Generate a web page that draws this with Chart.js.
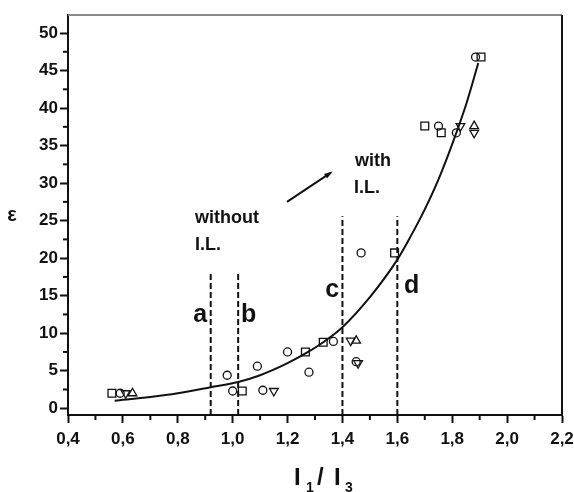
<!DOCTYPE html>
<html>
<head>
<meta charset="utf-8">
<title>epsilon vs I1/I3</title>
<script src="https://cdn.jsdelivr.net/npm/chart.js@4/dist/chart.umd.min.js"></script>
<style>
  html, body { margin: 0; padding: 0; background: #ffffff; }
  #wrap { width: 574px; height: 492px; position: relative; }
</style>
</head>
<body>
<div id="wrap"><canvas id="chart"></canvas></div>
<script>
// -----------------------------------------------------------------------------
// Data (x = I1/I3, y = epsilon)
// -----------------------------------------------------------------------------
const squaresX = [0.56, 1.035, 1.265, 1.33, 1.59, 1.70, 1.76, 1.905];
const squaresY = [2.0, 2.3, 7.5, 8.8, 20.7, 37.6, 36.7, 46.8];

const circlesX = [0.59, 0.98, 1.00, 1.09, 1.11, 1.20, 1.278, 1.367, 1.45, 1.468, 1.75, 1.815, 1.885];
const circlesY = [2.0, 4.4, 2.3, 5.6, 2.4, 7.5, 4.8, 8.9, 6.2, 20.7, 37.6, 36.7, 46.8];

const upTrianglesX = [0.635, 1.45, 1.88];
const upTrianglesY = [2.0, 9.0, 37.6];

const downTrianglesX = [0.61, 1.15, 1.43, 1.457, 1.83, 1.88];
const downTrianglesY = [2.0, 2.3, 9.0, 6.0, 37.6, 36.7];

// fitted curve
const curveX = [0.57, 0.70, 0.80, 0.92, 1.02, 1.10, 1.20, 1.27, 1.33, 1.40, 1.50, 1.60, 1.65, 1.70, 1.75, 1.80, 1.85, 1.895];
const curveY = [1.0, 1.5, 2.0, 2.8, 3.5, 4.4, 6.0, 7.4, 8.8, 10.8, 14.8, 19.8, 23.0, 26.5, 30.5, 35.2, 40.4, 46.0];

// dashed markers a, b, c, d
const markerNames = ['a', 'b', 'c', 'd'];
const markerX = [0.92, 1.02, 1.40, 1.60];
const markerTop = [18.0, 18.0, 25.6, 25.6];

// axes
const xTicks = [0.4, 0.6, 0.8, 1.0, 1.2, 1.4, 1.6, 1.8, 2.0, 2.2];
const xMinor = [0.5, 0.7, 0.9, 1.1, 1.3, 1.5, 1.7, 1.9, 2.1];
const yTicks = [0, 5, 10, 15, 20, 25, 30, 35, 40, 45, 50];
const yMinor = [2.5, 7.5, 12.5, 17.5, 22.5, 27.5, 32.5, 37.5, 42.5, 47.5];

// text annotations (data coordinates of the left end of the baseline)
const notes = [
    { text: 'without', x: 0.863, y: 24.7, size: 18 },
    { text: 'I.L.',    x: 0.863, y: 21.1, size: 18 },
    { text: 'with',    x: 1.446, y: 32.3, size: 18 },
    { text: 'I.L.',    x: 1.442, y: 28.7, size: 18 },
    { text: 'a',       x: 0.856, y: 11.5, size: 25 },
    { text: 'b',       x: 1.030, y: 11.5, size: 25 },
    { text: 'c',       x: 1.337, y: 14.8, size: 25 },
    { text: 'd',       x: 1.624, y: 15.3, size: 25 }
];
const arrowFrom = { x: 1.198, y: 27.5 };
const arrowTo = { x: 1.358, y: 31.4 };

const FONT = "'Liberation Sans', Arial, sans-serif";
const INK = '#111111';

function pts(xs, ys) {
    return xs.map(function(x, i) { return { x: x, y: ys[i] }; });
}

function markerSet(label, xs, ys, style, rot, radius) {
    return {
        label: label,
        data: pts(xs, ys),
        showLine: false,
        pointStyle: style,
        pointRotation: rot,
        pointRadius: radius,
        pointBorderWidth: 1.3,
        pointBorderColor: INK,
        pointBackgroundColor: 'rgba(255,255,255,0)'
    };
}

// one dataset per dashed vertical line
const dashSets = markerX.map(function(x, i) {
    return {
        label: 'line ' + markerNames[i],
        data: [{ x: x, y: -0.9 }, { x: x, y: markerTop[i] }],
        showLine: true,
        borderColor: INK,
        borderWidth: 2,
        borderDash: [6, 3],
        pointRadius: 0
    };
});

// -----------------------------------------------------------------------------
// Extras: frame, minor ticks, arrow, annotations and axis titles
// -----------------------------------------------------------------------------
const extras = {
    id: 'extras',
    afterDraw: function(chart) {
        const ctx = chart.ctx;
        const xs = chart.scales.x;
        const ys = chart.scales.y;
        const area = chart.chartArea;
        ctx.save();

        // top (grey) and right (black) frame
        ctx.lineWidth = 2;
        ctx.strokeStyle = '#8a8a8a';
        ctx.beginPath();
        ctx.moveTo(area.left, area.top);
        ctx.lineTo(area.right, area.top);
        ctx.stroke();
        ctx.strokeStyle = INK;
        ctx.beginPath();
        ctx.moveTo(area.right, area.top);
        ctx.lineTo(area.right, area.bottom + 1);
        ctx.stroke();

        // minor ticks
        ctx.lineWidth = 2;
        xMinor.forEach(function(v) {
            const px = xs.getPixelForValue(v);
            ctx.beginPath();
            ctx.moveTo(px, area.bottom);
            ctx.lineTo(px, area.bottom + 5);
            ctx.stroke();
        });
        yMinor.forEach(function(v) {
            const py = ys.getPixelForValue(v);
            ctx.beginPath();
            ctx.moveTo(area.left, py);
            ctx.lineTo(area.left - 5, py);
            ctx.stroke();
        });

        // arrow
        const x1 = xs.getPixelForValue(arrowFrom.x), y1 = ys.getPixelForValue(arrowFrom.y);
        const x2 = xs.getPixelForValue(arrowTo.x), y2 = ys.getPixelForValue(arrowTo.y);
        const ang = Math.atan2(y2 - y1, x2 - x1);
        ctx.lineWidth = 2;
        ctx.beginPath();
        ctx.moveTo(x1, y1);
        ctx.lineTo(x2, y2);
        ctx.stroke();
        ctx.fillStyle = INK;
        ctx.beginPath();
        ctx.moveTo(x2 + 2 * Math.cos(ang), y2 + 2 * Math.sin(ang));
        ctx.lineTo(x2 - 7 * Math.cos(ang - 0.4), y2 - 7 * Math.sin(ang - 0.4));
        ctx.lineTo(x2 - 7 * Math.cos(ang + 0.4), y2 - 7 * Math.sin(ang + 0.4));
        ctx.closePath();
        ctx.fill();

        // annotations
        ctx.textAlign = 'left';
        ctx.textBaseline = 'alphabetic';
        notes.forEach(function(n) {
            ctx.font = 'bold ' + n.size + 'px ' + FONT;
            ctx.fillText(n.text, xs.getPixelForValue(n.x), ys.getPixelForValue(n.y));
        });

        // y title
        ctx.textAlign = 'center';
        ctx.font = 'bold 20px ' + FONT;
        ctx.fillText('\u03b5', 12, 221);

        // x title: I1 / I3 with subscripts
        ctx.textAlign = 'left';
        ctx.font = 'bold 24px ' + FONT;
        ctx.fillText('I', 294, 485);
        ctx.fillText('/', 317, 485);
        ctx.fillText('I', 334, 485);
        ctx.font = 'bold 14px ' + FONT;
        ctx.fillText('1', 306, 492);
        ctx.fillText('3', 345, 492);

        ctx.restore();
    }
};

new Chart(document.getElementById('chart'), {
    type: 'scatter',
    data: {
        datasets: [
            {
                label: 'fit',
                data: pts(curveX, curveY),
                showLine: true,
                borderColor: INK,
                borderWidth: 2,
                cubicInterpolationMode: 'monotone',
                pointRadius: 0
            },
            markerSet('squares', squaresX, squaresY, 'rect', 0, 5.5),
            markerSet('circles', circlesX, circlesY, 'circle', 0, 4),
            markerSet('up triangles', upTrianglesX, upTrianglesY, 'triangle', 0, 5),
            markerSet('down triangles', downTrianglesX, downTrianglesY, 'triangle', 180, 5)
        ].concat(dashSets)
    },
    options: {
        responsive: true,
        maintainAspectRatio: false,
        animation: false,
        layout: { padding: { top: 15, right: 12, left: 0, bottom: 0 } },
        plugins: {
            legend: { display: false },
            tooltip: { enabled: false }
        },
        scales: {
            x: {
                type: 'linear',
                min: 0.4,
                max: 2.2,
                afterFit: function(s) { s.height = 77; s.paddingLeft = 0; s.paddingRight = 0; },
                afterBuildTicks: function(s) { s.ticks = xTicks.map(function(v) { return { value: v }; }); },
                grid: { drawOnChartArea: false, drawTicks: true, tickLength: 8, tickWidth: 2, tickColor: INK },
                border: { display: true, color: INK, width: 2 },
                ticks: {
                    color: INK,
                    padding: 6,
                    maxRotation: 0,
                    font: { family: FONT, size: 17, weight: 'bold' },
                    callback: function(v) { return Number(v).toFixed(1).replace('.', ','); }
                }
            },
            y: {
                type: 'linear',
                min: -0.9,
                max: 52.4,
                afterFit: function(s) { s.width = 68; s.paddingTop = 0; s.paddingBottom = 0; },
                afterBuildTicks: function(s) { s.ticks = yTicks.map(function(v) { return { value: v }; }); },
                grid: { drawOnChartArea: false, drawTicks: true, tickLength: 8, tickWidth: 2, tickColor: INK },
                border: { display: true, color: INK, width: 2 },
                ticks: {
                    color: INK,
                    padding: 2,
                    font: { family: FONT, size: 17, weight: 'bold' },
                    callback: function(v) { return String(v); }
                }
            }
        }
    },
    plugins: [extras]
});
</script>
</body>
</html>
